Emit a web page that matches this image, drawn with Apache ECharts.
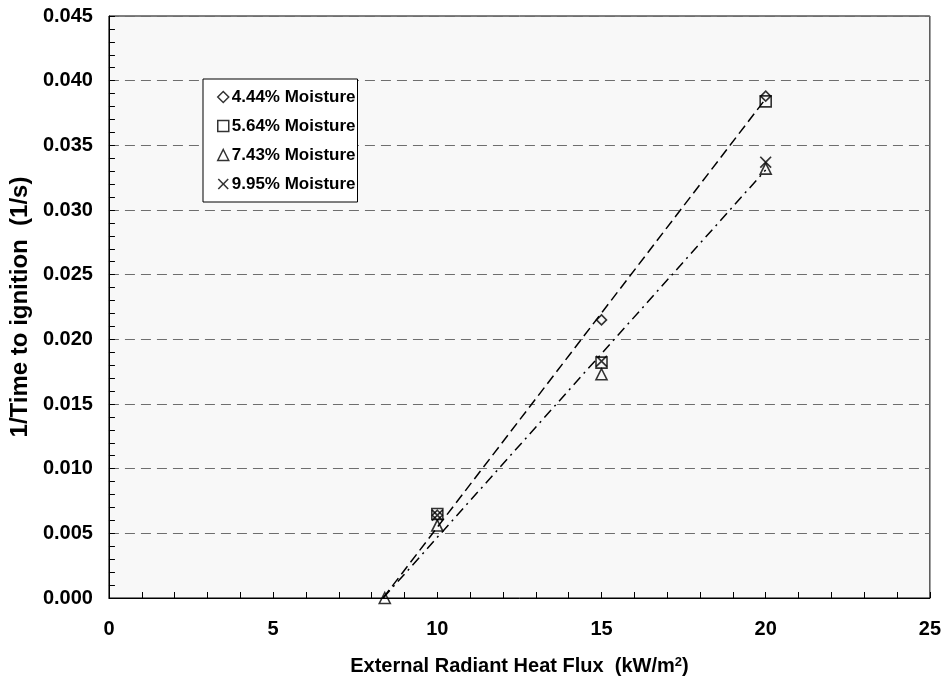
<!DOCTYPE html>
<html>
<head>
<meta charset="utf-8">
<script src="https://cdn.jsdelivr.net/npm/echarts@6/dist/echarts.min.js"></script>
<style>
  html, body { margin: 0; padding: 0; background: #fff; }
  #chart { width: 944px; height: 683px; }
</style>
</head>
<body>
<div id="chart"></div>
<script>
// measured points, x = heat flux (kW/m2), y = 1/time to ignition (1/s)
var m444 = [[10, 0.0064], [15, 0.0215], [20, 0.0388]];
var m564 = [[10, 0.0065], [15, 0.0182], [20, 0.0384]];
var m743 = [[8.4, 0.0], [10, 0.0056], [15, 0.0173], [20, 0.0332]];
var m995 = [[10, 0.0064], [15, 0.0183], [20, 0.0337]];
// fitted lines (end points)
var fitDry = [[8.35, 0.0], [20, 0.0386]];
var fitWet = [[8.35, 0.0], [20, 0.0331]];
var names = ['4.44% Moisture', '5.64% Moisture', '7.43% Moisture', '9.95% Moisture'];

var diamond = 'path://M5,0 L10,5 L5,10 L0,5 Z';
var cross = 'path://M0,1 L1,0 L5,4 L9,0 L10,1 L6,5 L10,9 L9,10 L5,6 L1,10 L0,9 L4,5 Z';

var hollow = { color: 'rgba(255,255,255,0)', borderColor: '#000', borderWidth: 1.6 };

function pts(name, data, symbol, size, style) {
  return {
    name: name, type: 'scatter', data: data, symbol: symbol, symbolSize: size,
    itemStyle: style, z: 5
  };
}

var chart = echarts.init(document.getElementById('chart'));
chart.setOption({
  animation: false,
  textStyle: { fontFamily: 'Arial, "Liberation Sans", sans-serif' },
  grid: { left: 108, right: 14, top: 16, bottom: 85, show: true,
          backgroundColor: '#f8f8f8', borderColor: '#000', borderWidth: 1 },
  legend: {
    orient: 'vertical', left: 203, top: 79, itemGap: 11,
    itemWidth: 11, itemHeight: 11,
    padding: [9, 2, 9, 14],
    backgroundColor: '#fff', borderColor: '#000', borderWidth: 1,
    itemStyle: { borderWidth: 1.5 },
    textStyle: { fontSize: 17, fontWeight: 'bold', color: '#000', lineHeight: 18, padding: [0, 0, 0, -2] },
    data: [names[0], names[1], names[2], { name: names[3], itemStyle: { borderWidth: 0 } }]
  },
  xAxis: {
    type: 'value', min: 0, max: 25, interval: 5,
    name: 'External Radiant Heat Flux  (kW/m{sup|2})',
    nameLocation: 'middle', nameGap: 58,
    nameTextStyle: { fontSize: 20, fontWeight: 'bold', color: '#000',
      rich: { sup: { fontSize: 13, fontWeight: 'bold', verticalAlign: 'top', padding: [0, 0, 8, 0] } } },
    axisLine: { lineStyle: { color: '#000' } },
    axisTick: { inside: true, length: 6, lineStyle: { color: '#000' } },
    minorTick: { show: true, splitNumber: 5, length: 6, lineStyle: { color: '#000' } },
    axisLabel: { fontSize: 20, fontWeight: 'bold', color: '#000', margin: 21 },
    splitLine: { show: false }
  },
  yAxis: {
    type: 'value', min: 0, max: 0.045, interval: 0.005,
    name: '1/Time to ignition  (1/s)',
    nameLocation: 'middle', nameGap: 73,
    nameTextStyle: { fontSize: 24, fontWeight: 'bold', color: '#000' },
    axisLine: { lineStyle: { color: '#000' } },
    axisTick: { inside: true, length: 6, lineStyle: { color: '#000' } },
    minorTick: { show: true, splitNumber: 5, length: 6, lineStyle: { color: '#000' } },
    axisLabel: { fontSize: 20, fontWeight: 'bold', color: '#000', margin: 16,
                 formatter: function (v) { return v.toFixed(3); } },
    splitLine: { show: true, lineStyle: { color: '#6e6e6e', type: [10, 6], width: 1 } }
  },
  series: [
    pts(names[0], m444, diamond, 10, hollow),
    pts(names[1], m564, 'rect', 11, hollow),
    pts(names[2], m743, 'triangle', 11, hollow),
    pts(names[3], m995, cross, 12, { color: '#000', borderColor: '#000', borderWidth: 0 }),
    { type: 'line', data: fitDry, symbol: 'none', silent: true,
      lineStyle: { color: '#000', width: 1.5, type: [10, 5] } },
    { type: 'line', data: fitWet, symbol: 'none', silent: true,
      lineStyle: { color: '#000', width: 1.5, type: [10, 5, 2, 5] } }
  ]
});
</script>
</body>
</html>
